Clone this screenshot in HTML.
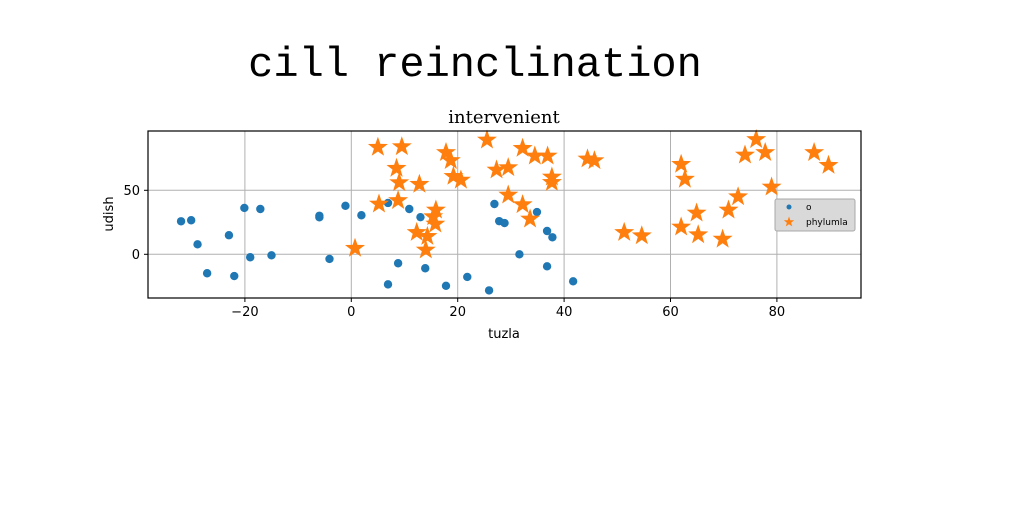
<!DOCTYPE html>
<html><head><meta charset="utf-8"><style>
html,body{margin:0;padding:0;background:#fff;}
svg{display:block;}
text{font-family:"DejaVu Sans","Liberation Sans",sans-serif;}
</style></head><body>
<svg id="chart" width="1024" height="512" xmlns="http://www.w3.org/2000/svg">
<text x="475" y="76" font-size="42" text-anchor="middle" style="font-family:'Liberation Mono','DejaVu Sans Mono',monospace">cill reinclination</text>
<text x="504" y="123" font-size="18" text-anchor="middle" style="font-family:'DejaVu Serif','Liberation Serif',serif">intervenient</text>
<g id="grid"></g>
<g id="ticks"></g>
<g id="marks"></g>
<rect x="148" y="131" width="713" height="167" fill="none" stroke="#000" stroke-width="1.2"/>
<text x="504" y="338" font-size="13" text-anchor="middle">tuzla</text>
<text x="113" y="214" font-size="13" text-anchor="middle" transform="rotate(-90 113 214)">udish</text>
<g>
<rect x="775" y="199" width="80" height="32" rx="2" fill="#d9d9d9" stroke="#a8a8a8"/>
<circle cx="789" cy="207" r="2.5" fill="#1f77b4"/>
<text x="806" y="210" font-size="9">o</text>
<polygon id="legstar" fill="#ff7f0e"/>
<text x="806" y="225" font-size="9">phylumla</text>
</g>
</svg>
<script>
const xTicks = [-20, 0, 20, 40, 60, 80];
const yTicks = [0, 50];
const oX = [-32.0,-30.1,-28.9,-27.1,-23.0,-22.0,-20.1,-19.0,-17.1,-15.0,-6.0,-6.0,-4.1,-1.1,1.9,6.9,6.9,8.8,10.9,13.0,13.9,17.8,21.8,25.9,26.9,27.8,28.8,31.6,34.9,36.8,37.8,36.8,41.7];
const oY = [25.8,26.6,7.8,-14.8,14.9,-17.0,36.2,-2.3,35.4,-0.8,30.1,28.9,-3.6,37.9,30.5,40.1,-23.5,-7.0,35.4,29.0,-10.9,-24.6,-17.7,-28.2,39.3,25.9,24.4,0,33.0,18.2,13.3,-9.4,-21.1];
const pX = [5.0,9.5,8.5,9.0,12.8,5.2,8.8,0.7,17.8,18.7,19.2,20.6,25.5,27.3,29.5,29.5,15.9,15.4,15.8,12.3,14.3,14.0,32.2,34.5,36.9,37.7,37.7,32.2,33.6,44.4,45.7,51.3,54.6,62.0,62.7,64.9,62.0,65.2,69.8,70.9,72.7,74.0,76.1,77.8,79.0,87.0,89.7];
const pY = [83.6,84.1,67.2,56.0,54.7,39.3,42.0,4.7,79.5,73.3,60.9,58.0,89.3,65.9,67.7,46.3,34.6,29.4,23.7,17.1,14.0,3.4,82.8,76.8,76.8,60.4,56.2,38.8,27.6,74.5,73.2,17.1,14.5,70.3,58.7,32.3,21.3,15.3,11.9,34.6,45.0,77.6,89.7,79.5,52.6,79.5,69.5];
const NS='http://www.w3.org/2000/svg';
const sx = v => 351.3 + v*5.32;
const sy = v => 254.3 - v*1.28;
function mk(tag, attrs, parent){const e=document.createElementNS(NS,tag);for(const k in attrs)e.setAttribute(k,attrs[k]);parent.appendChild(e);return e;}
function starPts(cx,cy,R){const r=R*0.4;let s=[];for(let i=0;i<10;i++){const a=-Math.PI/2+i*Math.PI/5;const rr=i%2?r:R;s.push((cx+rr*Math.cos(a)).toFixed(1)+','+(cy+rr*Math.sin(a)).toFixed(1));}return s.join(' ');}
const grid=document.getElementById('grid'),ticks=document.getElementById('ticks'),marks=document.getElementById('marks');
xTicks.forEach(t=>{
  const l=mk('line',{x1:sx(t),x2:sx(t),y1:131,y2:298,stroke:'#b0b0b0','stroke-width':1},grid);
  
  
  const tk=mk('line',{x1:sx(t),x2:sx(t),y1:298,y2:302,stroke:'#000'},ticks);
  
  
  const tx=mk('text',{x:sx(t),y:316,'font-size':13,'text-anchor':'middle'},ticks);
  tx.textContent=t<0?'\u2212'+(-t):String(t);
  
  
});
yTicks.forEach(t=>{
  const l=mk('line',{x1:148,x2:861,y1:sy(t),y2:sy(t),stroke:'#b0b0b0','stroke-width':1},grid);
  
  
  const tk=mk('line',{x1:144,x2:148,y1:sy(t),y2:sy(t),stroke:'#000'},ticks);
  
  
  const tx=mk('text',{x:140,y:sy(t)+4.5,'font-size':13,'text-anchor':'end'},ticks);
  tx.textContent=String(t);
  
  
});
oX.forEach((v,i)=>{
  const c=mk('circle',{cx:sx(v),cy:sy(oY[i]),r:4.2,fill:'#1f77b4'},marks);
  
  
});
pX.forEach((v,i)=>{
  const p=mk('polygon',{points:starPts(sx(v),sy(pY[i]),10.5),fill:'#ff7f0e'},marks);
  
  
});
document.getElementById('legstar').setAttribute('points',starPts(789,222,5.5));
</script>
</body></html>
